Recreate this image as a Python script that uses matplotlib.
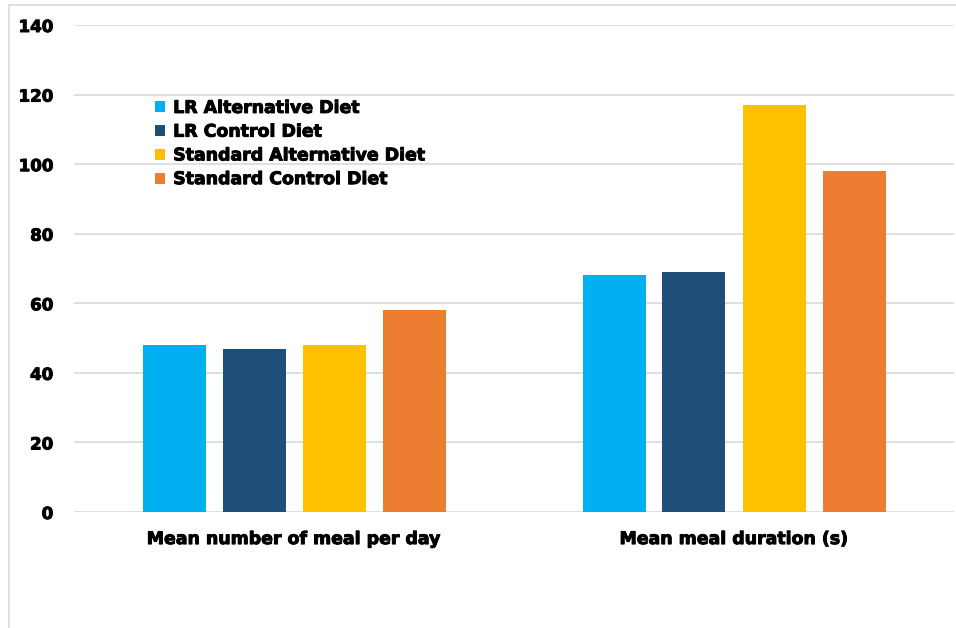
import matplotlib
matplotlib.use("Agg")
import matplotlib.pyplot as plt
from matplotlib.patches import Rectangle
import matplotlib.patheffects as pe
import numpy as np

categories = ["Mean number of meal per day", "Mean meal duration (s)"]
series_names = ["LR Alternative Diet", "LR Control Diet",
                "Standard Alternative Diet", "Standard Control Diet"]
lr_alt = [48, 68]
lr_ctrl = [47, 69]
std_alt = [48, 117]
std_ctrl = [58, 98]
yticks = [0, 20, 40, 60, 80, 100, 120, 140]

colors = ["#00B0F0", "#1F4E79", "#FFC000", "#ED7D31"]
series = [lr_alt, lr_ctrl, std_alt, std_ctrl]

plt.rcParams['font.family'] = ['DejaVu Sans']
plt.rcParams['font.weight'] = 'bold'

fig = plt.figure(figsize=(9.56, 6.28), dpi=100)
fig.patches.append(Rectangle((9/956, -0.1), 1.2, 1 - 5/628 + 0.1, transform=fig.transFigure,
                             fill=False, edgecolor="#D9D9D9", linewidth=1.2))
ax = fig.add_axes([74/956, 1 - 512/628, 880/956, 487/628])

x = np.arange(len(categories))
width = 63/440
step = 80/440
for i, (vals, name, c) in enumerate(zip(series, series_names, colors)):
    ax.bar(x + (i - 1.5)*step, vals, width, color=c, label=name, zorder=3)

ax.set_xlim(-0.5, 1.5)
ax.set_ylim(0, 140)
ax.set_yticks(yticks)
ax.set_yticklabels([str(v) for v in yticks], fontsize=12, fontweight='bold')
ax.set_xticks(x)
ax.set_xticklabels(categories, fontsize=12.5, fontweight='bold')
ax.tick_params(axis='both', length=0)
ax.tick_params(axis='y', pad=15)
ax.tick_params(axis='x', pad=13)
ax.grid(axis='y', color="#D9D9D9", linewidth=1.2, zorder=0)
for s in ax.spines.values():
    s.set_visible(False)

leg = ax.legend(loc='upper left', bbox_to_anchor=(74/880, 1 - 67/487), frameon=False,
                prop={'family': 'DejaVu Sans', 'weight': 'bold', 'size': 12.5},
                handlelength=0.6, handleheight=0.6, handletextpad=0.45,
                labelspacing=0.33, borderaxespad=0)

stroke = [pe.withStroke(linewidth=0.7, foreground='black')]
for t in ax.get_xticklabels() + ax.get_yticklabels() + leg.get_texts():
    t.set_path_effects(stroke)

fig.savefig("out.png", dpi=100, facecolor="white")
